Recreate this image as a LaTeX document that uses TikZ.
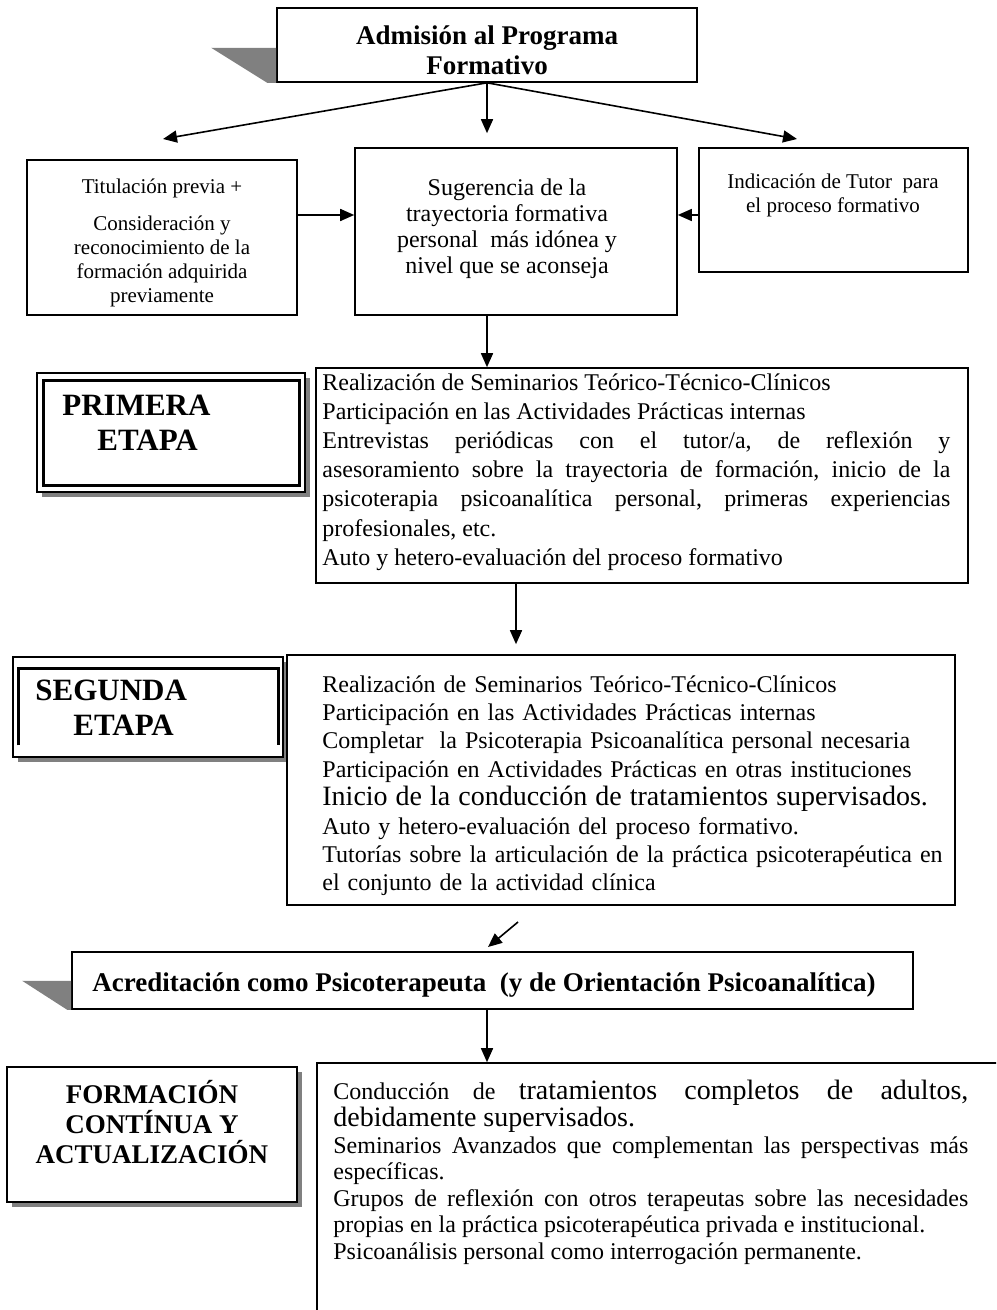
\documentclass[tikz,border=0pt]{standalone}
\usepackage{fontspec}
\setmainfont{Liberation Serif}
\usetikzlibrary{arrows.meta,shadows}

\begin{document}
\begin{tikzpicture}[
    x=0.5pt, y=-0.5pt,
    box/.style={rectangle, draw=black, line width=0.8pt, fill=white, inner sep=0pt},
    shadowed/.style={general shadow={fill=gray, shadow xshift=2.5pt, shadow yshift=-2.5pt}},
    wedge/.style={fill=gray, draw=none},
    body/.style={inner sep=0pt, font=\fontsize{12}{14}\selectfont\frenchspacing},
    smalltxt/.style={inner sep=0pt, font=\fontsize{10.5}{12}\selectfont},
    head/.style={inner sep=0pt, font=\bfseries\fontsize{13.5}{15}\selectfont},
    etapa/.style={inner sep=0pt, font=\bfseries\fontsize{15.5}{17.5}\selectfont},
    arrow/.style={-{Triangle[length=7pt,width=6pt]}, line width=0.8pt}
]
\path[use as bounding box] (0,0) rectangle (996,1310);
\fill[white] (0,0) rectangle (996,1310);
\clip (0,0) rectangle (996,1310);

\node[box, minimum width=210pt, minimum height=37pt] (adm) at (487,45) {};
\fill[wedge] ([shift={(-65,-35)}]adm.south west) -- ([shift={(0,-35)}]adm.south west)
    -- (adm.south west) -- ([shift={(-9,0)}]adm.south west) -- cycle;
\node[head, align=center, anchor=north] (admtxt) at (487,25) {Admisión al Programa\\Formativo};

\node[box, minimum width=135pt, minimum height=77.5pt] (lbox) at (162,237.5) {};
\begin{scope}
  \clip (lbox.south west) rectangle (lbox.north east);
  \node[smalltxt, align=center, anchor=north] (lbtxt) at (162,178) {Titulación previa +\\[6.5pt]Consideración y\\reconocimiento de la\\formación adquirida\\previamente};
\end{scope}

\node[box, minimum width=161pt, minimum height=83.5pt] (sug) at (516,231.5) {};
\node[body, align=center, anchor=north, font=\fontsize{12}{13}\selectfont] (sugtxt) at (507,178)
    {Sugerencia de la\\trayectoria formativa\\personal\ \ más idónea y\\nivel que se aconseja};

\node[box, minimum width=134.5pt, minimum height=62pt] (ind) at (833.5,210) {};
\node[smalltxt, align=center, anchor=north] (indtxt) at (833,174) {Indicación de Tutor\ \ para\\el proceso formativo};

\coordinate (lt) at (163,139);
\coordinate (rt) at (797,139);
\coordinate (row) at (0,215);
\draw[arrow] (adm.south) -- (lt);
\draw[arrow] (adm.south) -- (rt);
\draw[arrow, shorten >=7pt] (adm.south) -- (adm.south |- sug.north);
\draw[arrow] (lbox.east |- row) -- (sug.west |- row);
\draw[arrow] (ind.west |- row) -- (sug.east |- row);

\node[box, shadowed, line width=0.6pt, minimum width=134pt, minimum height=59.5pt] (prilab) at (171,432.5) {};
\draw[line width=1.3pt] ([shift={(7,8)}]prilab.north west) rectangle ([shift={(-6,-7)}]prilab.south east);
\node[etapa, align=left, anchor=north west] (pritxt) at (62,395) {PRIMERA\\\hspace*{17.5pt}ETAPA};

\node[box, minimum width=326pt, minimum height=107.5pt] (pri) at (642,475.5) {};
\node[body, text width=314pt, align=justify, anchor=north west, font=\fontsize{12}{14.6}\selectfont\frenchspacing] (prilist) at (322,373) {%
Realización de Seminarios Teórico-Técnico-Clínicos\par
Participación en las Actividades Prácticas internas\par
Entrevistas periódicas con el tutor/a, de reflexión y\linebreak
asesoramiento sobre la trayectoria de formación, inicio de la\linebreak
psicoterapia psicoanalítica personal, primeras experiencias\linebreak
profesionales, etc.\par
Auto y hetero-evaluación del proceso formativo};
\draw[arrow] (adm.south |- sug.south) -- (adm.south |- pri.north);

\node[box, shadowed, line width=0.6pt, minimum width=135pt, minimum height=50pt] (seglab) at (148,707) {};
\draw[line width=1.3pt] ([shift={(6,89)}]seglab.north west) -- ([shift={(6,12)}]seglab.north west)
    -- ([shift={(-5,12)}]seglab.north east) -- ([shift={(-5,89)}]seglab.north east);
\node[etapa, align=left, anchor=north west] (segtxt) at (35,680) {SEGUNDA\\\hspace*{19pt}ETAPA};

\node[box, minimum width=334pt, minimum height=125pt] (seg) at (621,780) {};
\node[body, text width=316.5pt, align=left, anchor=north west, font=\fontsize{12}{14.2}\selectfont] (seglist) at (322,675) {%
Realización de Seminarios Teórico-Técnico-Clínicos\par
Participación en las Actividades Prácticas internas\par
Completar\ \ la Psicoterapia Psicoanalítica personal necesaria\par
Participación en Actividades Prácticas en otras instituciones\par
{\fontsize{14}{14.2}\selectfont Inicio de la conducción de tratamientos supervisados.\par}
Auto y hetero-evaluación del proceso formativo.\par
Tutorías sobre la articulación de la práctica psicoterapéutica en\linebreak
el conjunto de la actividad clínica};
\draw[arrow, shorten >=5pt] (sug.south |- pri.south) -- (sug.south |- seg.north);

\coordinate (d1) at (518,922);
\coordinate (d2) at (488,947);
\draw[arrow] (d1) -- (d2);

\node[box, minimum width=420.5pt, minimum height=28.5pt] (acr) at (492.5,980.5) {};
\fill[wedge] ([shift={(-49,-29)}]acr.south west) -- ([shift={(0,-29)}]acr.south west)
    -- (acr.south west) -- ([shift={(-4,0)}]acr.south west) -- cycle;
\node[head, anchor=base west] (acrtxt) at (92,991) {Acreditación como Psicoterapeuta\ \ (y de Orientación Psicoanalítica)};

\node[box, shadowed, line width=1.1pt, minimum width=145pt, minimum height=67.5pt] (forlab) at (152,1134.5) {};
\node[head, align=center, anchor=north] (fortxt) at (152,1080) {FORMACIÓN\\CONTÍNUA Y\\ACTUALIZACIÓN};

\node[box, minimum width=346.5pt, minimum height=133.5pt] (bot) at (663.5,1196.5) {};
\node[body, text width=317.5pt, align=justify, anchor=north west, font=\fontsize{12}{13.3}\selectfont\frenchspacing] (botlist) at (333,1080) {%
Conducción de {\fontsize{14}{13.3}\selectfont tratamientos completos de adultos,\linebreak
debidamente supervisados.}\par
Seminarios Avanzados que complementan las perspectivas más\linebreak
específicas.\par
Grupos de reflexión con otros terapeutas sobre las necesidades\linebreak
propias en la práctica psicoterapéutica privada e institucional.\par
Psicoanálisis personal como interrogación permanente.};
\draw[arrow] (adm.south |- acr.south) -- (adm.south |- bot.north);
\end{tikzpicture}
\end{document}
